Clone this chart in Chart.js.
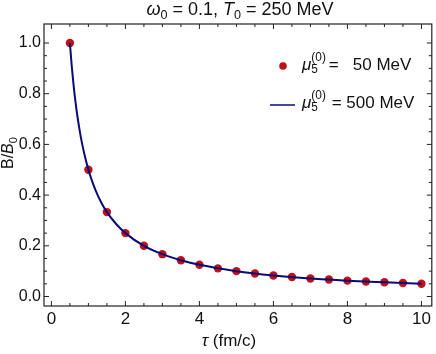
<!DOCTYPE html>
<html>
<head>
<meta charset="utf-8">
<script src="https://cdn.jsdelivr.net/npm/chart.js@4.4.1/dist/chart.umd.min.js"></script>
<style>
  html, body { margin: 0; padding: 0; background: #fff; }
  #wrap { width: 436px; height: 354px; }
</style>
</head>
<body>
<div id="wrap"><canvas id="plot" width="436" height="354"></canvas></div>
<script>
// points for mu5 = 50 MeV
var tauPts = [0.5, 1, 1.5, 2, 2.5, 3, 3.5, 4, 4.5, 5, 5.5, 6, 6.5, 7, 7.5, 8, 8.5, 9, 9.5, 10];
var bPts = [1.0, 0.5, 0.333, 0.25, 0.2, 0.167, 0.143, 0.125, 0.111, 0.1, 0.091, 0.083, 0.077, 0.071, 0.067, 0.0625, 0.059, 0.056, 0.053, 0.05];

// curve for mu5 = 500 MeV
var tauLine = [0.5, 0.55, 0.6, 0.65, 0.7, 0.75, 0.8, 0.9, 1.0, 1.1, 1.2, 1.35, 1.5, 1.75, 2, 2.5, 3, 3.5, 4, 5, 6, 7, 8, 9, 10];
var bLine = [1.0, 0.909, 0.833, 0.769, 0.714, 0.667, 0.625, 0.556, 0.5, 0.455, 0.417, 0.370, 0.333, 0.286, 0.25, 0.2, 0.167, 0.143, 0.125, 0.1, 0.083, 0.071, 0.0625, 0.056, 0.05];

var xTicks = [0, 2, 4, 6, 8, 10];
var yTicks = [0.0, 0.2, 0.4, 0.6, 0.8, 1.0];

var FONT = '"Liberation Sans", Arial, sans-serif';

function toXY(xs, ys) {
  return xs.map(function(x, i) { return {x: x, y: ys[i]}; });
}

// text pieces with italic / sub / sup
function richWidth(ctx, parts, size) {
  var w = 0;
  parts.forEach(function(p) {
    var s = p.sub || p.sup ? size * 0.7 : size;
    ctx.font = (p.it ? 'italic ' : '') + s + 'px ' + FONT;
    if (!p.stack) w += ctx.measureText(p.t).width;
  });
  return w;
}
function richDraw(ctx, parts, x, y, size) {
  parts.forEach(function(p) {
    var s = p.sub || p.sup ? size * 0.7 : size;
    ctx.font = (p.it ? 'italic ' : '') + s + 'px ' + FONT;
    var dy = p.sub ? size * 0.3 : (p.sup ? -size * 0.45 : 0);
    ctx.fillText(p.t, x, y + dy);
    if (!p.stack) x += ctx.measureText(p.t).width;
  });
  return x;
}

var framePlugin = {
  id: 'frame',
  afterDraw: function(chart) {
    var ctx = chart.ctx, a = chart.chartArea;
    var xs = chart.scales.x, ys = chart.scales.y;
    ctx.save();
    ctx.strokeStyle = '#222';
    ctx.lineWidth = 1.2;
    ctx.strokeRect(a.left, a.top, a.right - a.left, a.bottom - a.top);
    ctx.lineWidth = 1;
    var v, px, len;
    for (v = 0; v <= 10.001; v += 0.5) {
      px = xs.getPixelForValue(v);
      len = Math.abs(v % 2) < 0.01 ? 5 : 3;
      ctx.beginPath();
      ctx.moveTo(px, a.bottom); ctx.lineTo(px, a.bottom - len);
      ctx.moveTo(px, a.top); ctx.lineTo(px, a.top + len);
      ctx.stroke();
    }
    for (v = 0; v <= 1.0001; v += 0.05) {
      px = ys.getPixelForValue(v);
      len = Math.abs(Math.round(v * 100) % 20) < 1 ? 5 : 3;
      ctx.beginPath();
      ctx.moveTo(a.left, px); ctx.lineTo(a.left + len, px);
      ctx.moveTo(a.right, px); ctx.lineTo(a.right - len, px);
      ctx.stroke();
    }

    ctx.fillStyle = '#111';
    ctx.textBaseline = 'middle';
    ctx.textAlign = 'left';

    // title
    var title = [{t: 'ω', it: true}, {t: '0', sub: true}, {t: ' = 0.1, '}, {t: 'T', it: true}, {t: '0', sub: true}, {t: ' = 250 MeV'}];
    var tw = richWidth(ctx, title, 18);
    richDraw(ctx, title, 240 - tw / 2, 10, 18);

    // x axis title
    var xt = [{t: 'τ', it: true}, {t: ' (fm/c)'}];
    var xw = richWidth(ctx, xt, 17);
    richDraw(ctx, xt, 229 - xw / 2, 341, 17);

    // y axis title
    ctx.save();
    ctx.translate(9, 153);
    ctx.rotate(-Math.PI / 2);
    var yt = [{t: 'B/'}, {t: 'B', it: true}, {t: '0', sub: true}];
    var yw = richWidth(ctx, yt, 16);
    richDraw(ctx, yt, -yw / 2, 0, 16);
    ctx.restore();

    // legend
    var ds = chart.data.datasets;
    ctx.fillStyle = ds[0].backgroundColor;
    ctx.beginPath();
    ctx.arc(283, 66, 3.8, 0, Math.PI * 2);
    ctx.fill();
    ctx.strokeStyle = ds[1].borderColor;
    ctx.lineWidth = 1.5;
    ctx.beginPath();
    ctx.moveTo(270, 105); ctx.lineTo(295, 105);
    ctx.stroke();
    ctx.fillStyle = '#111';
    var mu = [{t: 'μ', it: true}, {t: '(0)', sup: true, stack: true}, {t: '5', sub: true}];
    var e = richDraw(ctx, mu, 302, 65, 17);
    richDraw(ctx, [{t: ' =   50 MeV'}], e + 6, 65, 17);
    e = richDraw(ctx, mu, 302, 103, 17);
    richDraw(ctx, [{t: ' = 500 MeV'}], e + 9, 103, 17);
    ctx.restore();
  }
};

var ctx = document.getElementById('plot').getContext('2d');
var config = {
  type: 'scatter',
  data: {
    datasets: [{
      label: 'mu5 = 50 MeV',
      data: toXY(tauPts, bPts),
      backgroundColor: '#bd1218',
      borderColor: '#bd1218',
      pointRadius: 4.2,
      pointBorderWidth: 0,
      order: 1
    },
    {
      label: 'mu5 = 500 MeV',
      type: 'line',
      data: toXY(tauLine, bLine),
      borderColor: '#0a0a7a',
      backgroundColor: '#0a0a7a',
      borderWidth: 2,
      pointRadius: 0,
      cubicInterpolationMode: 'monotone',
      fill: false,
      order: 0
    }]
  },
  options: {
    responsive: false,
    animation: false,
    layout: { padding: { top: 24, right: 2, left: 0, bottom: 0 } },
    plugins: { legend: { display: false }, tooltip: { enabled: false }, title: { display: false } },
    scales: {
      x: {
        type: 'linear',
        min: -0.2,
        max: 10.28,
        grid: { display: false, drawTicks: false },
        border: { display: false },
        afterBuildTicks: function(s) { s.ticks = xTicks.map(function(v) { return {value: v}; }); },
        afterFit: function(s) { s.height = 48; },
        ticks: {
          color: '#111',
          padding: 3,
          maxRotation: 0,
          font: { family: FONT, size: 17 },
          callback: function(v) { return String(v); }
        }
      },
      y: {
        type: 'linear',
        min: -0.0375,
        max: 1.075,
        grid: { display: false, drawTicks: false },
        border: { display: false },
        afterBuildTicks: function(s) { s.ticks = yTicks.map(function(v) { return {value: v}; }); },
        afterFit: function(s) { s.width = 44; },
        ticks: {
          color: '#111',
          padding: 3,
          font: { family: FONT, size: 16 },
          callback: function(v) { return Number(v).toFixed(1); }
        }
      }
    }
  },
  plugins: [framePlugin]
};

var chart = new Chart(ctx, config);
</script>
</body>
</html>
